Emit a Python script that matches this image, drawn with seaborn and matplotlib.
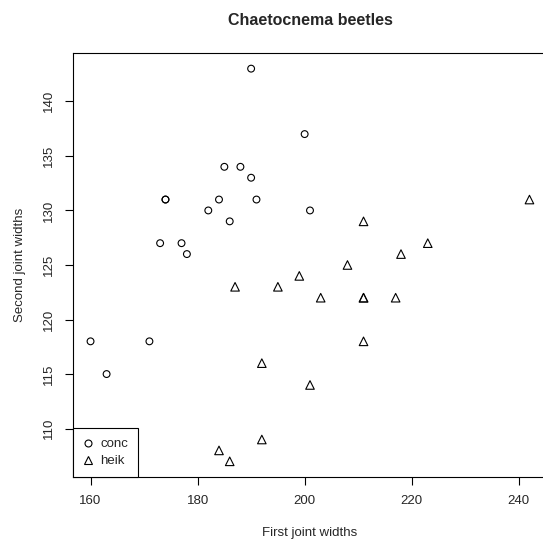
import pandas as pd
import numpy as np
import seaborn as sns
import matplotlib.pyplot as plt
from matplotlib.lines import Line2D

# first and second joint widths
conc_first = [190, 200, 185, 188, 190, 174, 174, 184, 191, 182, 201, 186, 173, 177, 178, 160, 171, 163]
conc_second = [143, 137, 134, 134, 133, 131, 131, 131, 131, 130, 130, 129, 127, 127, 126, 118, 118, 115]
heik_first = [242, 211, 223, 218, 208, 199, 187, 195, 203, 211, 211, 217, 211, 192, 201, 192, 184, 186]
heik_second = [131, 129, 127, 126, 125, 124, 123, 123, 122, 122, 122, 122, 118, 116, 114, 109, 108, 107]
species = ['conc', 'heik']

df = pd.DataFrame({
    'first': conc_first + heik_first,
    'second': conc_second + heik_second,
    'species': [species[0]] * len(conc_first) + [species[1]] * len(heik_first),
})

sns.set_style('white')
plt.rcParams['font.family'] = ['Liberation Sans', 'DejaVu Sans']

fig = plt.figure(figsize=(5.43, 5.43), dpi=100)
ax = fig.add_axes([0.1344, 0.1215, 0.873, 0.781])

# R style open symbols: small circles, slightly bigger triangles
sns.scatterplot(data=df[df['species'] == 'conc'], x='first', y='second', marker='o',
                s=24, color='black', linewidth=0.8, legend=False, ax=ax)
sns.scatterplot(data=df[df['species'] == 'heik'], x='first', y='second', marker='^',
                s=38, color='black', linewidth=0.8, legend=False, ax=ax)
for coll in ax.collections:
    coll.set_facecolor('none')
    coll.set_edgecolor('black')

ax.set_xlim(156.72, 245.28)
ax.set_ylim(105.56, 144.44)
ax.set_xticks([160, 180, 200, 220, 240])
ax.set_yticks([110, 115, 120, 125, 130, 135, 140])
ax.tick_params(axis='both', direction='out', length=6, width=0.8, labelsize=9.5,
               color='black', bottom=True, left=True, pad=7)
plt.setp(ax.get_yticklabels(), rotation=90, va='center')
for sp in ax.spines.values():
    sp.set_color('black')
    sp.set_linewidth(0.8)

ax.set_xlabel('First joint widths', fontsize=9.5, labelpad=14)
ax.set_ylabel('Second joint widths', fontsize=9.5, labelpad=12)
ax.set_title('Chaetocnema beetles', fontsize=11.5, fontweight='bold', pad=20)

handles = [
    Line2D([], [], marker='o', ls='none', mfc='none', mec='black', ms=5, mew=0.8),
    Line2D([], [], marker='^', ls='none', mfc='none', mec='black', ms=6.2, mew=0.8),
]
leg = ax.legend(handles, species, loc='lower left', borderaxespad=0, fontsize=9.5,
                frameon=True, fancybox=False, edgecolor='black', framealpha=1,
                handlelength=0.8, handletextpad=0.5, borderpad=0.75, labelspacing=0.35)
leg.get_frame().set_linewidth(0.8)

fig.savefig('out.png', dpi=100)
